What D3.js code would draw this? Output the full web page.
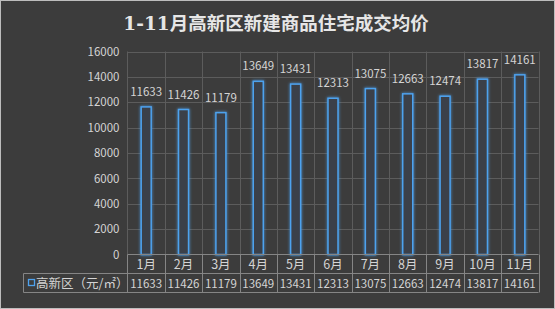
<!DOCTYPE html>
<html><head><meta charset="utf-8">
<script src="https://cdn.jsdelivr.net/npm/d3@7"></script>
<style>
html,body{margin:0;padding:0;background:#3c3c3c;}
svg{display:block;}
</style></head>
<body>
<svg id="c" width="555" height="309"></svg>
<script>
const categories = ["1月","2月","3月","4月","5月","6月","7月","8月","9月","10月","11月"];
const values = [11633,11426,11179,13649,13431,12313,13075,12663,12474,13817,14161];
const yTicks = [0,2000,4000,6000,8000,10000,12000,14000,16000];
const seriesName = "高新区（元/㎡）";
const title = "1-11月高新区新建商品住宅成交均价";

const W=555,H=309;
const svg=d3.select("#c");
const font='"Noto Sans CJK SC","Noto Sans",sans-serif';
svg.append("rect").attr("x",0.5).attr("y",0.5).attr("width",W-1).attr("height",H-1)
  .attr("fill","#3c3c3c").attr("stroke","#bdbdbd").attr("stroke-width",1);

const defs=svg.append("defs");
const f=defs.append("filter").attr("id","glow").attr("x","-100%").attr("y","-20%").attr("width","300%").attr("height","140%");
f.append("feGaussianBlur").attr("in","SourceGraphic").attr("stdDeviation",1.6).attr("result","b");
const m=f.append("feMerge");
m.append("feMergeNode").attr("in","b");
m.append("feMergeNode").attr("in","SourceGraphic");

const L=127.5,R=538.5,T=51.5,B=254.5;
const x=d3.scaleBand().domain(categories).range([L,R]);
const y=d3.scaleLinear().domain([0,16000]).range([B,T]);
const grid="#5c5c5c";

// title
svg.append("text").attr("x",276).attr("y",30).attr("text-anchor","middle")
  .attr("font-family",'"DejaVu Serif","Noto Sans CJK SC",serif').attr("font-weight","bold")
  .attr("font-size",18.5).attr("fill","#e6e6e6").text(title);

// horizontal grid
svg.append("g").selectAll("line").data(yTicks.filter(d=>d>0)).join("line")
  .attr("x1",L).attr("x2",R).attr("y1",d=>Math.round(y(d))+0.5).attr("y2",d=>Math.round(y(d))+0.5)
  .attr("stroke",grid).attr("stroke-width",1);
// vertical grid (category boundaries)
const bounds=categories.map(c=>x(c)).concat([R]);
svg.append("g").selectAll("line").data(bounds).join("line")
  .attr("x1",d=>Math.round(d)+0.5).attr("x2",d=>Math.round(d)+0.5)
  .attr("y1",T).attr("y2",B).attr("stroke",grid);

// y axis labels
const yAxis=d3.axisLeft(y).tickValues(yTicks).tickSize(0).tickPadding(8).tickFormat(d3.format("d"));
const ya=svg.append("g").attr("transform",`translate(${L},0)`).call(yAxis);
ya.select(".domain").remove();
ya.selectAll("text").attr("font-family",font).attr("font-size",11.5).attr("fill","#d4d4d4");

// bars
const bw=10;
svg.append("g").selectAll("rect").data(values).join("rect")
  .attr("x",(d,i)=>x.bandwidth()/2+x(categories[i])-bw/2)
  .attr("y",d=>y(d)).attr("width",bw).attr("height",d=>B-y(d))
  .attr("fill","#3b4049").attr("stroke","#4ea2ee").attr("stroke-width",1.5)
  .attr("filter","url(#glow)");

// value labels
svg.append("g").selectAll("text").data(values).join("text")
  .attr("x",(d,i)=>x(categories[i])+x.bandwidth()/2).attr("y",d=>y(d)-11)
  .attr("text-anchor","middle").attr("font-family",font).attr("font-size",11.5)
  .attr("fill","#d4d4d4").text(d=>d);

// table
const r1=B, r2=273.5, r3=292.5, legL=23.5;
const tg=svg.append("g").attr("stroke","#858585").attr("stroke-width",1).attr("fill","none");
tg.append("line").attr("x1",L).attr("x2",R).attr("y1",r1).attr("y2",r1);
tg.append("line").attr("x1",legL).attr("x2",R).attr("y1",r2).attr("y2",r2);
tg.append("line").attr("x1",legL).attr("x2",R).attr("y1",r3).attr("y2",r3);
tg.append("line").attr("x1",legL).attr("x2",legL).attr("y1",r2).attr("y2",r3);
tg.selectAll("line.v").data(bounds).join("line").attr("class","v")
  .attr("x1",d=>Math.round(d)+0.5).attr("x2",d=>Math.round(d)+0.5).attr("y1",r1).attr("y2",r3);

svg.append("g").selectAll("text").data(categories).join("text")
  .attr("x",c=>x(c)+x.bandwidth()/2).attr("y",(r1+r2)/2+4.5).attr("text-anchor","middle")
  .attr("font-family",font).attr("font-size",12.5).attr("fill","#d4d4d4").text(c=>c);
svg.append("g").selectAll("text").data(values).join("text")
  .attr("x",(d,i)=>x(categories[i])+x.bandwidth()/2).attr("y",(r2+r3)/2+4.5).attr("text-anchor","middle")
  .attr("font-family",font).attr("font-size",11.5).attr("fill","#d4d4d4").text(d=>d);

svg.append("rect").attr("x",28.5).attr("y",279.5).attr("width",6).attr("height",6)
  .attr("fill","none").attr("stroke","#4ea2ee").attr("stroke-width",1.3);
svg.append("text").attr("x",36).attr("y",(r2+r3)/2+4.5).attr("font-family",font)
  .attr("font-size",12.5).attr("fill","#d4d4d4").text(seriesName);
</script>
</body></html>
